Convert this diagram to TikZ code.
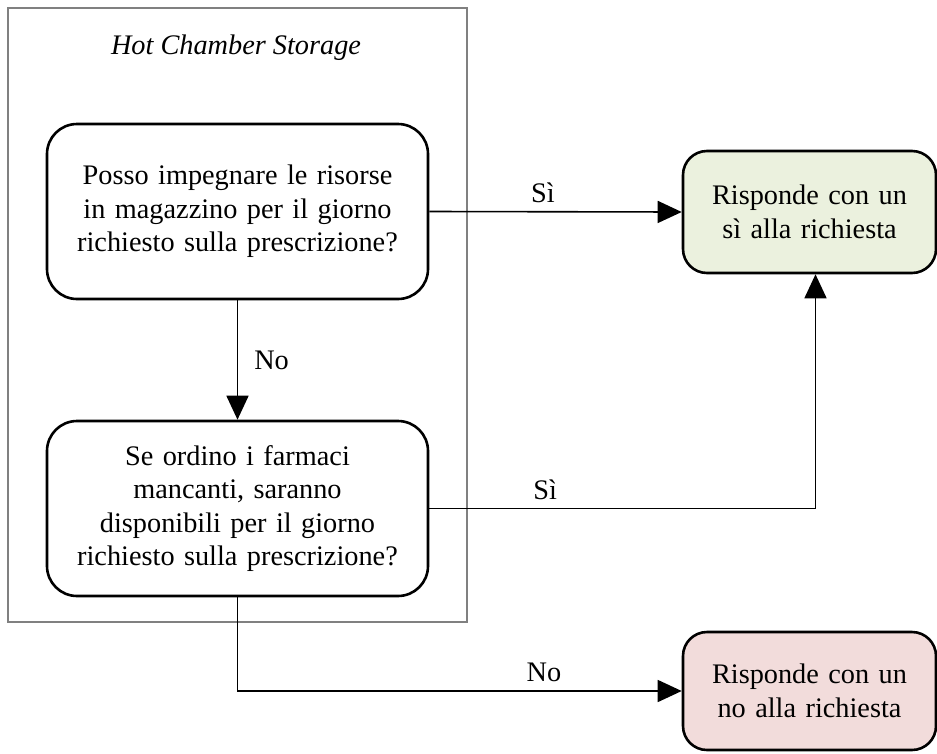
\documentclass[tikz,border=0pt]{standalone}
\usepackage{fontspec}
\setmainfont{Liberation Serif}
\usetikzlibrary{arrows.meta}
\definecolor{yesfill}{HTML}{EBF1DE}
\definecolor{nofill}{HTML}{F2DCDB}
\definecolor{framegray}{HTML}{808080}
\begin{document}
\begin{tikzpicture}[x=1pt,y=-1pt,
  txt/.style={font=\fontsize{28.3}{33.5}\selectfont},
  question/.style={txt,draw=black,line width=2.6pt,rounded corners=30pt,
    minimum width=381pt,minimum height=175pt,text width=350pt,align=center,inner sep=0pt},
  answer/.style={txt,draw=black,line width=2.6pt,rounded corners=24pt,
    minimum width=253pt,text width=235pt,align=center,inner sep=0pt},
  flow/.style={line width=1.6pt,-{Triangle[length=24pt,width=22pt]}},
  lbl/.style={txt,inner sep=0pt}]
  \useasboundingbox (0,0) rectangle (937,753);
  % lane frame
  \node[draw=framegray,line width=2.2pt,minimum width=459pt,minimum height=614pt,inner sep=0pt]
    (lane) at (237.5,315) {};
  \node[txt,font=\fontsize{28.3}{33.5}\selectfont\itshape] (title) at (236,48) {Hot Chamber Storage};
  % decisions
  \node[question] (q1) at (237.5,211.5) {Posso impegnare le risorse\\in magazzino per il giorno\\richiesto sulla prescrizione?};
  \node[question] (q2) at (237.5,508.5) {Se ordino i farmaci\\mancanti, saranno\\disponibili per il giorno\\richiesto sulla prescrizione?};
  % outcomes
  \node[answer,fill=yesfill,minimum height=122pt] (yes) at (809.5,212) {Risponde con un\\sì alla richiesta};
  \node[answer,fill=nofill,minimum height=118pt] (no) at (809.5,691) {Risponde con un\\no alla richiesta};
  % connectors
  \draw[flow] (q1.east) -- (yes.west) node[lbl,pos=0.45,above=8pt] {Sì};
  \draw[flow] (q1.south) -- (q2.north) node[lbl,midway,right=16pt] {No};
  \coordinate (up) at ([xshift=6pt]yes.south);
  \draw[flow] (q2.east) -| (up) node[lbl,pos=0.15,above=8pt] {Sì};
  \draw[flow] (q2.south) |- (no.west) node[lbl,pos=0.845,above=8pt] {No};
\end{tikzpicture}
\end{document}
